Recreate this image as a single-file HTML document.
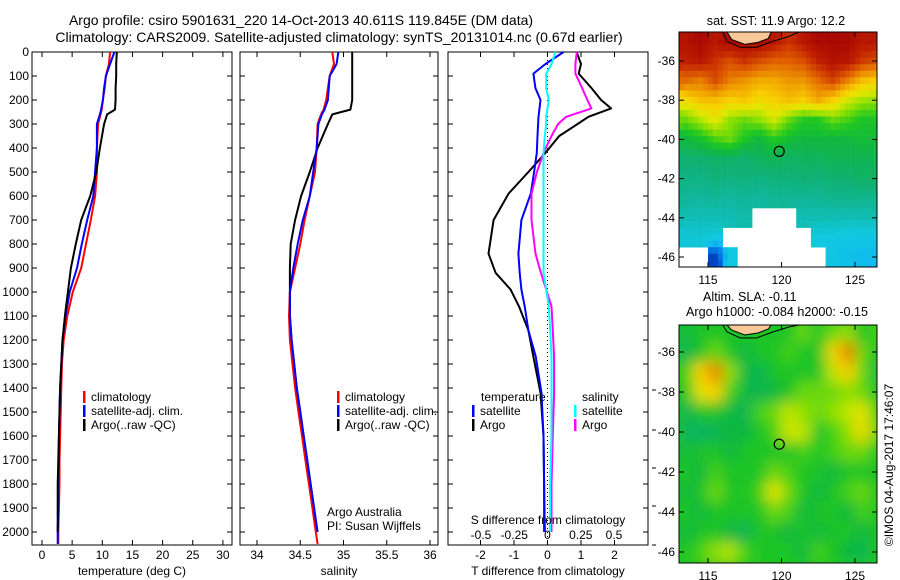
<!DOCTYPE html>
<html><head><meta charset="utf-8"><style>
html,body{margin:0;padding:0;background:#fff;}
svg{display:block;font-family:"Liberation Sans",sans-serif;}
text{font-size:12px;fill:#000;}
</style></head><body>
<svg id="fig" width="900" height="580" viewBox="0 0 900 580" xmlns="http://www.w3.org/2000/svg">
<defs>
<clipPath id="clipA"><rect x="679" y="32" width="198" height="235"/></clipPath>
<clipPath id="clipB"><rect x="679" y="325" width="198" height="238"/></clipPath>
<filter id="blur" x="-10%" y="-10%" width="120%" height="120%"><feGaussianBlur stdDeviation="7"/></filter>
</defs>
<text x="301" y="25" text-anchor="middle" style="font-size:14px">Argo profile: csiro 5901631_220 14-Oct-2013 40.611S 119.845E (DM data)</text>
<text x="339" y="42" text-anchor="middle" style="font-size:14px">Climatology: CARS2009. Satellite-adjusted climatology: synTS_20131014.nc (0.67d earlier)</text>
<g id="g"></g>
</svg>
<script>
// ---------- profile data ----------
const depthP = [0,50,100,150,200,240,260,300,400,500,600,700,800,900,1000,1100,1200,1300,1400,1500,1600,1700,1800,1900,2000,2050];
const tClim = [11.3,11.1,10.6,10.4,10.1,9.9,9.7,9.3,9.1,9.1,8.8,8.1,7.3,6.5,5.1,4.2,3.6,3.3,3.2,3.1,3.0,2.9,2.9,2.8,2.7,2.7];
const tSat  = [12.0,11.3,10.6,10.3,10.1,9.8,9.6,9.1,9.1,8.8,8.5,7.5,6.6,5.8,4.6,3.9,3.4,3.2,3.0,2.9,2.8,2.8,2.7,2.7,2.6,2.6];
const tArgo = [12.4,12.3,12.3,12.2,12.2,12.1,10.8,10.3,9.6,9.0,8.0,6.5,5.6,4.8,4.3,3.8,3.4,3.2,3.0,2.9,2.8,2.7,2.6,2.6,2.6,2.6];
const sClim = [34.87,34.89,34.84,34.82,34.80,34.77,34.74,34.70,34.69,34.67,34.61,34.55,34.50,34.44,34.38,34.37,34.38,34.41,34.44,34.48,34.52,34.56,34.60,34.64,34.68,34.70];
const sSat  = [34.94,34.92,34.84,34.83,34.82,34.78,34.75,34.71,34.69,34.65,34.61,34.53,34.47,34.42,34.38,34.38,34.40,34.43,34.46,34.50,34.54,34.58,34.62,34.66,34.70,34.70];
const sArgo = [35.10,35.10,35.10,35.10,35.10,35.08,34.87,34.82,34.70,34.61,34.51,34.44,34.39,34.38,34.38,34.38,34.40,34.43,34.46,34.50,34.54,34.58,34.62,34.66,34.69,34.69];
const depthD = [0,50,90,150,200,235,270,300,350,420,500,590,700,840,920,990,1060,1160,1270,1420,1600,1800,2000];
const dTArgo = [0.87,1.0,0.93,1.31,1.6,1.9,1.22,0.9,0.35,-0.06,-0.57,-1.16,-1.61,-1.76,-1.55,-1.1,-0.85,-0.57,-0.42,-0.21,-0.12,-0.1,-0.08];
const dTSat  = [0.48,-0.06,-0.42,-0.36,-0.21,-0.24,-0.27,-0.28,-0.3,-0.32,-0.4,-0.5,-0.78,-0.87,-0.83,-0.78,-0.68,-0.57,-0.35,-0.18,-0.12,-0.1,-0.1];
const dSArgo = [0.22,0.21,0.21,0.26,0.3,0.33,0.14,0.08,0.03,-0.03,-0.08,-0.12,-0.12,-0.09,-0.05,-0.01,0.03,0.04,0.05,0.05,0.04,0.03,0.03];
const dSSat  = [0.06,0.03,-0.01,-0.01,0.01,0.0,-0.01,-0.01,-0.02,-0.03,-0.03,-0.03,-0.03,-0.03,-0.03,-0.01,0.01,0.02,0.03,0.03,0.03,0.02,0.02];
const depthTicks = [0,100,200,300,400,500,600,700,800,900,1000,1100,1200,1300,1400,1500,1600,1700,1800,1900,2000];
const tTicks = [0,5,10,15,20,25,30];
const sTicks = [34,34.5,35,35.5,36];
const dTTicks = [-2,-1,0,1,2];
const dSTicks = [-0.5,-0.25,0,0.25,0.5];
// ---------- map data (rows: lat -34.5..-46.5 step 1, cols: lon 113..127 step 1; -1 = missing) ----------
const mapLat0 = -34.5, mapLon0 = 113;
const sstGrid = [
[0.93,0.95,0.92,0.95,0.95,0.95,0.92,0.88,0.92,0.95,0.95,0.95,0.92,0.92],
[0.9,0.92,0.88,0.85,0.88,0.85,0.83,0.83,0.85,0.9,0.93,0.92,0.87,0.85],
[0.82,0.8,0.85,0.8,0.78,0.76,0.76,0.78,0.78,0.82,0.86,0.8,0.74,0.72],
[0.7,0.74,0.74,0.72,0.73,0.7,0.72,0.74,0.72,0.76,0.72,0.66,0.63,0.62],
[0.6,0.64,0.68,0.62,0.6,0.62,0.66,0.6,0.56,0.56,0.6,0.58,0.55,0.55],
[0.52,0.54,0.58,0.6,0.55,0.52,0.56,0.53,0.52,0.52,0.52,0.52,0.53,0.53],
[0.47,0.47,0.48,0.48,0.47,0.49,0.5,0.48,0.49,0.49,0.5,0.5,0.5,0.5],
[0.45,0.45,0.46,0.45,0.46,0.45,0.46,0.46,0.47,0.46,0.47,0.47,0.48,0.48],
[0.43,0.42,0.43,0.42,0.43,0.42,0.43,0.43,0.43,0.43,0.44,0.44,0.44,0.44],
[0.4,0.4,0.4,0.4,0.41,-1,-1,-1,0.4,0.4,0.4,0.4,0.4,0.4],
[0.37,0.37,0.36,-1,-1,-1,-1,-1,-1,0.36,0.36,0.35,0.35,0.35],
[-1,-1,0.15,0.36,-1,-1,-1,-1,-1,-1,0.35,0.33,0.31,0.31]];
const slaGrid = [
[.52,.55,.55,.55,.55,.55,.55,.55,.6,.55,.6,.62,.55,.58],
[.5,.55,.6,.55,.52,.55,.55,.58,.55,.55,.7,.8,.6,.55],
[.58,.72,.8,.62,.52,.5,.55,.55,.55,.55,.65,.72,.6,.52],
[.55,.68,.72,.58,.52,.5,.52,.55,.6,.6,.6,.62,.6,.55],
[.5,.55,.55,.52,.5,.58,.6,.65,.62,.6,.62,.65,.68,.58],
[.5,.48,.5,.52,.52,.55,.58,.66,.65,.55,.58,.62,.7,.6],
[.52,.55,.55,.52,.55,.55,.55,.55,.58,.55,.58,.6,.6,.55],
[.55,.52,.58,.55,.55,.55,.6,.58,.55,.55,.52,.55,.55,.55],
[.52,.55,.6,.55,.55,.58,.68,.6,.55,.52,.55,.58,.6,.55],
[.55,.52,.55,.55,.55,.55,.6,.58,.52,.55,.55,.52,.58,.55],
[.52,.55,.55,.52,.5,.55,.55,.52,.55,.52,.55,.55,.52,.55],
[.55,.58,.62,.64,.58,.55,.55,.55,.52,.58,.55,.52,.5,.55]];
const latTicks = [-36,-38,-40,-42,-44,-46];
const lonTicks = [115,120,125];
const argoLon = 119.845, argoLat = -40.611;

const NS = "http://www.w3.org/2000/svg";
const G = document.getElementById('g');
function mk(tag, attrs, parent, txt){const e=document.createElementNS(NS,tag);for(const k in attrs)e.setAttribute(k,attrs[k]);if(txt!==undefined)e.textContent=txt;(parent||G).appendChild(e);return e;}

const yD = d => 52 + d*0.24;
const xT = t => 42 + t*6.03;
const xS = s => 257 + (s-34)*86.5;
const xDT = v => 547.5 + v*33.5;
const xDS = v => 547.5 + v*133;

function panel(x0,x1,name,xticks,xfn,xlabels,xtitle,showY){
  const g = mk('g',{});
  
  
  const r = mk('rect',{x:x0,y:52,width:x1-x0,height:493,fill:'none',stroke:'#000','stroke-width':1},g);
  
  
  depthTicks.forEach(d=>{
    mk('line',{x1:x0,x2:x0+5,y1:yD(d),y2:yD(d),stroke:'#000'},g);
    mk('line',{x1:x1-5,x2:x1,y1:yD(d),y2:yD(d),stroke:'#000'},g);
    if(showY){const t=mk('text',{x:29,y:yD(d)+4,'text-anchor':'end'},g,String(d));
      
      }
  });
  xticks.forEach((v,i)=>{
    const x=xfn(v);
    mk('line',{x1:x,x2:x,y1:52,y2:57,stroke:'#000'},g);
    mk('line',{x1:x,x2:x,y1:540,y2:545,stroke:'#000'},g);
    if(xlabels){const t=mk('text',{x:x,y:559,'text-anchor':'middle'},g,xlabels[i]);
      
      }
  });
  const tt=mk('text',{x:(x0+x1)/2,y:575,'text-anchor':'middle'},g,xtitle);
  
  
  return g;
}
function line(xs,ds,xfn,color,name,w){
  const pts = xs.map((v,i)=>xfn(v).toFixed(1)+','+yD(ds[i]).toFixed(1)).join(' ');
  const p = mk('polyline',{points:pts,fill:'none',stroke:color,'stroke-width':w||2,'stroke-linejoin':'round'});
  
  
}
function legend(x,y,color,label,name){
  const g=mk('g',{});
  
  
  mk('rect',{x:x,y:y-10,width:2.5,height:12,fill:color},g);
  mk('text',{x:x+8,y:y},g,label);
}

panel(32,232,'temperature-panel',tTicks,xT,tTicks.map(String),'temperature (deg C)',true);
panel(240,438,'salinity-panel',sTicks,xS,sTicks.map(String),'salinity',false);
panel(448,648,'difference-panel',dTTicks,xDT,dTTicks.map(String),'T difference from climatology',false);

const z = mk('line',{x1:547.5,x2:547.5,y1:52,y2:545,stroke:'#000','stroke-dasharray':'1,3'});



line(tClim,depthP,xT,'#f00','temp-climatology-line');
line(tSat,depthP,xT,'#00f','temp-satellite-line');
line(tArgo.slice(0,25),depthP.slice(0,25),xT,'#000','temp-argo-line');
line(sArgo.slice(0,25),depthP.slice(0,25),xS,'#000','sal-argo-line');
line(sClim,depthP,xS,'#f00','sal-climatology-line');
line(sSat.slice(0,25),depthP.slice(0,25),xS,'#00f','sal-satellite-line');
line(dTArgo,depthD,xDT,'#000','dT-argo-line');
line(dTSat,depthD,xDT,'#00f','dT-satellite-line');
line(dSArgo,depthD,xDS,'#f0f','dS-argo-line');
line(dSSat,depthD,xDS,'#0ff','dS-satellite-line');

const st=mk('text',{x:548,y:524,'text-anchor':'middle'},G,'S difference from climatology');


dSTicks.forEach(v=>{const t=mk('text',{x:xDS(v),y:539,'text-anchor':'middle'},G,String(v));
  
  });

legend(83,401,'#f00','climatology','legend-temp-climatology');
legend(83,415,'#00f','satellite-adj. clim.','legend-temp-satellite');
legend(83,429,'#000','Argo(..raw -QC)','legend-temp-argo');
legend(337,401,'#f00','climatology','legend-sal-climatology');
legend(337,415,'#00f','satellite-adj. clim.','legend-sal-satellite');
legend(337,429,'#000','Argo(..raw -QC)','legend-sal-argo');
mk('text',{x:481,y:401},G,'temperature');
mk('text',{x:582,y:401},G,'salinity');
legend(472,415,'#00f','satellite','legend-dT-satellite');
legend(472,429,'#000','Argo','legend-dT-argo');
legend(574,415,'#0ff','satellite','legend-dS-satellite');
legend(574,429,'#f0f','Argo','legend-dS-argo');
mk('text',{x:327,y:516},G,'Argo Australia');
mk('text',{x:327,y:530},G,'PI: Susan Wijffels');
[390,430,468,506,545].forEach(y=>mk('line',{x1:652,x2:656,y1:y,y2:y,stroke:'#000'}));

// ---------- maps ----------
const cstops=[[0.1,[0,40,160]],[0.2,[0,96,224]],[0.3,[16,184,240]],[0.36,[16,200,224]],[0.42,[16,184,160]],[0.47,[16,176,112]],[0.52,[16,184,64]],[0.56,[32,200,32]],[0.62,[144,224,0]],[0.67,[224,232,0]],[0.72,[248,208,0]],[0.77,[240,160,0]],[0.83,[224,96,0]],[0.9,[192,32,0]],[0.97,[160,0,0]]];
function cmap(v){
  if(v<=cstops[0][0])return 'rgb('+cstops[0][1]+')';
  for(let i=1;i<cstops.length;i++){if(v<=cstops[i][0]){const a=cstops[i-1],b=cstops[i],f=(v-a[0])/(b[0]-a[0]);
    return 'rgb('+a[1].map((c,k)=>Math.round(c+(b[1][k]-c)*f)).join(',')+')';}}
  return 'rgb('+cstops[cstops.length-1][1]+')';
}
const xLon = l => 708 + (l-115)*14.7;
function gv(grid,r,c,fb){
  if(r<0||r>=grid.length||c<0||c>=grid[0].length)return fb;
  const v=grid[r][c];return v<0?fb:v;
}
function mapPanel(grid,yLat,clip,name,blur,top,bottom){
  const g=mk('g',{'clip-path':'url(#'+clip+')'});
  
  
  const inner=mk('g',blur?{filter:'url(#blur)'}:{},g);
  if(blur){
    mk('rect',{x:660,y:top-20,width:240,height:bottom-top+40,fill:'rgb(32,200,32)'},inner);
    grid.forEach((row,r)=>row.forEach((v,c)=>{
      const x=xLon(mapLon0+c), y=yLat(mapLat0-r);
      const cell=mk('rect',{x:x,y:y,width:14.9,height:yLat(mapLat0-r-1)-y+0.3,fill:cmap(v)},inner);
      
      
    }));
  } else {
    const N=3;
    grid.forEach((row,r)=>row.forEach((v,c)=>{
      if(v<0)return;
      for(let i=0;i<N;i++)for(let j=0;j<N;j++){
        const fr=(i+0.5)/N-0.5, fc=(j+0.5)/N-0.5;
        const rr=fr<0?r-1:r+1, cc=fc<0?c-1:c+1;
        const ar=Math.abs(fr), ac=Math.abs(fc);
        const val=v*(1-ar)*(1-ac)+gv(grid,rr,c,v)*ar*(1-ac)+gv(grid,r,cc,v)*(1-ar)*ac+gv(grid,rr,cc,v)*ar*ac;
        const x=xLon(mapLon0+c+j/N), y=yLat(mapLat0-r-i/N);
        const cell=mk('rect',{x:x,y:y,width:14.7/N+0.3,height:yLat(mapLat0-r-(i+1)/N)-y+0.3,fill:cmap(val)},inner);
        
        
      }
    }));
  }
  const land=mk('path',{d:'M'+xLon(116.3)+','+(top)+' L'+xLon(116.6)+','+yLat(-34.9)+' L'+xLon(117.5)+','+yLat(-35.15)+' L'+xLon(118.4)+','+yLat(-35.05)+' L'+xLon(119.1)+','+yLat(-34.85)+' L'+xLon(119.3)+','+top+' Z',fill:'#f8c898',stroke:'#000','stroke-width':1},g);
  
  
  mk('path',{d:'M'+xLon(116.0)+','+top+' L'+xLon(116.3)+','+yLat(-35.0)+' L'+xLon(117.2)+','+yLat(-35.3)+' L'+xLon(118.3)+','+yLat(-35.3)+' L'+xLon(119.4)+','+yLat(-35.0)+' L'+xLon(120.5)+','+yLat(-34.75)+' L'+xLon(121.2)+','+top,fill:'none',stroke:'#000','stroke-width':1},g);
  const c=mk('circle',{cx:xLon(argoLon),cy:yLat(argoLat),r:5,fill:'none',stroke:'#000','stroke-width':1.2},g);
  
  
  const fr=mk('rect',{x:679,y:top,width:198,height:bottom-top,fill:'none',stroke:'#000'});
  
  
  latTicks.forEach(l=>{const y=yLat(l);
    mk('line',{x1:679,x2:684,y1:y,y2:y,stroke:'#000'});mk('line',{x1:872,x2:877,y1:y,y2:y,stroke:'#000'});
    const t=mk('text',{x:675,y:y+4,'text-anchor':'end'},G,String(l));
    
    });
  lonTicks.forEach(l=>{const x=xLon(l);
    mk('line',{x1:x,x2:x,y1:top,y2:top+5,stroke:'#000'});mk('line',{x1:x,x2:x,y1:bottom-5,y2:bottom,stroke:'#000'});
    const t=mk('text',{x:x,y:bottom+17,'text-anchor':'middle'},G,String(l));
    
    });
}
mapPanel(sstGrid,l=>257-(l+46)*19.6,'clipA','sst-map',false,32,267);
mapPanel(slaGrid,l=>552-(l+46)*20,'clipB','sla-map',true,325,563);
mk('text',{x:776,y:25,'text-anchor':'middle',style:'font-size:12.6px'},G,'sat. SST: 11.9 Argo: 12.2');
mk('text',{x:703,y:301,style:'font-size:12.6px'},G,'Altim. SLA: -0.11');
mk('text',{x:686,y:316,style:'font-size:12.6px'},G,'Argo h1000: -0.084 h2000: -0.15');
const cr=mk('text',{x:893,y:465,'text-anchor':'middle',transform:'rotate(-90 893 465)','font-size':'11'},G,'©IMOS 04-Aug-2017 17:46:07');


</script>
</body></html>
